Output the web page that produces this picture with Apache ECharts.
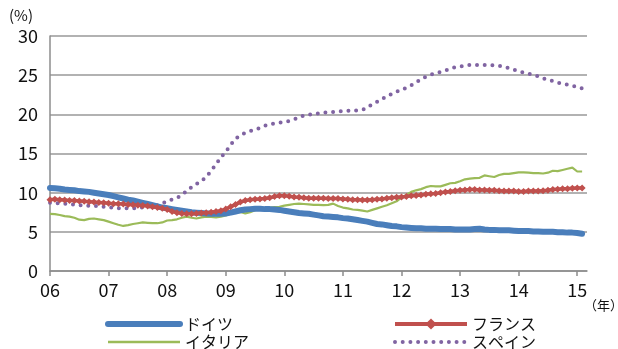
<!DOCTYPE html>
<html><head><meta charset="utf-8">
<script src="https://cdn.jsdelivr.net/npm/echarts@6/dist/echarts.min.js"></script>
<style>html,body{margin:0;padding:0;background:#fff}#c{width:618px;height:349px}</style>
</head><body><div id="c"></div>
<script>
// years shown on the axis (category axis is monthly: Jan 2006 .. Mar 2015)
var years = ['06','07','08','09','10','11','12','13','14','15'];
var yTicks = [0, 5, 10, 15, 20, 25, 30];
var seriesNames = ['ドイツ', 'フランス', 'イタリア', 'スペイン'];

// Germany (monthly, Jan 2006 - Feb 2015)
var germany = [
 10.6,10.55,10.5,10.4,10.35,10.3,10.2,10.15,10.1,10.0,9.9,9.8,
 9.7,9.55,9.4,9.25,9.1,9.0,8.85,8.7,8.55,8.4,8.25,8.1,
 8.0,7.9,7.8,7.7,7.6,7.5,7.45,7.4,7.35,7.3,7.3,7.3,
 7.35,7.45,7.6,7.75,7.85,7.9,7.95,7.95,7.9,7.9,7.85,7.8,
 7.7,7.6,7.5,7.4,7.35,7.3,7.2,7.1,7.0,6.95,6.9,6.85,
 6.75,6.7,6.6,6.5,6.4,6.3,6.15,6.0,5.95,5.85,5.75,5.7,
 5.6,5.55,5.5,5.45,5.45,5.4,5.4,5.4,5.35,5.35,5.35,5.3,
 5.3,5.3,5.3,5.35,5.4,5.3,5.25,5.25,5.2,5.2,5.2,5.15,
 5.1,5.1,5.1,5.05,5.05,5.0,5.0,5.0,4.95,4.95,4.9,4.9,
 4.85,4.75
];
// France
var france = [
 9.1,9.15,9.1,9.05,9.0,9.0,8.95,8.9,8.85,8.8,8.75,8.7,
 8.65,8.6,8.6,8.55,8.5,8.45,8.4,8.35,8.3,8.2,8.1,8.0,
 7.85,7.6,7.45,7.35,7.3,7.3,7.35,7.4,7.45,7.5,7.6,7.7,
 7.9,8.2,8.5,8.8,9.0,9.1,9.15,9.2,9.25,9.35,9.5,9.6,
 9.6,9.55,9.45,9.4,9.35,9.3,9.3,9.3,9.3,9.25,9.25,9.25,
 9.2,9.15,9.1,9.1,9.05,9.05,9.1,9.15,9.2,9.3,9.35,9.4,
 9.45,9.5,9.6,9.65,9.7,9.8,9.85,9.9,10.0,10.1,10.15,10.25,
 10.3,10.35,10.4,10.4,10.35,10.35,10.3,10.3,10.25,10.2,10.2,10.2,
 10.15,10.15,10.2,10.2,10.2,10.25,10.3,10.4,10.45,10.5,10.5,10.55,
 10.6,10.6
];
// Italy
var italy = [
 7.3,7.25,7.15,7.0,6.95,6.8,6.55,6.5,6.65,6.7,6.6,6.5,
 6.3,6.1,5.9,5.75,5.85,6.0,6.1,6.2,6.15,6.1,6.1,6.2,
 6.45,6.5,6.6,6.8,6.95,6.8,6.7,6.85,6.95,6.9,6.85,6.95,
 7.1,7.3,7.5,7.55,7.35,7.5,7.75,7.9,8.0,8.1,8.15,8.2,
 8.35,8.45,8.55,8.6,8.55,8.5,8.45,8.45,8.4,8.45,8.6,8.3,
 8.1,8.0,7.85,7.8,7.7,7.6,7.8,8.0,8.2,8.4,8.65,8.9,
 9.4,9.7,10.1,10.3,10.45,10.7,10.85,10.8,10.8,11.0,11.2,11.25,
 11.45,11.7,11.8,11.85,11.9,12.2,12.1,12.0,12.25,12.4,12.4,12.5,
 12.6,12.6,12.55,12.5,12.5,12.45,12.55,12.8,12.75,12.9,13.05,13.2,
 12.7,12.7
];
// Spain
var spain = [
 8.7,8.7,8.6,8.6,8.5,8.5,8.4,8.4,8.3,8.3,8.3,8.2,
 8.1,8.1,8.0,8.0,8.0,8.0,8.1,8.1,8.2,8.3,8.4,8.6,
 8.95,9.1,9.3,9.7,10.2,10.7,11.1,11.5,12.0,12.8,13.6,14.5,
 15.2,16.1,16.9,17.3,17.65,17.85,18.05,18.25,18.55,18.7,18.85,18.95,
 19.0,19.15,19.35,19.6,19.85,19.95,20.05,20.1,20.2,20.3,20.3,20.35,
 20.4,20.45,20.5,20.5,20.6,20.85,21.3,21.6,21.95,22.3,22.6,22.9,
 23.1,23.4,23.7,24.1,24.45,24.8,25.05,25.25,25.4,25.6,25.85,26.0,
 26.1,26.2,26.3,26.3,26.3,26.3,26.3,26.25,26.2,26.05,25.9,25.7,
 25.5,25.35,25.2,25.0,24.85,24.6,24.4,24.25,24.05,23.9,23.8,23.65,
 23.5,23.3
];

// monthly categories: each year label followed by 11 unlabeled months, plus Jan-Mar 2015
var months = [];
years.forEach(function (y, k) {
  var n = (k === years.length - 1) ? 3 : 12;
  for (var m = 0; m < n; m++) months.push(m === 0 ? y : y + '-' + (m + 1));
});

var FONT = '"Noto Sans CJK JP", "Noto Sans", sans-serif';
var chart = echarts.init(document.getElementById('c'), null, {renderer: 'canvas'});
var isYear = function (idx, val) { return val.indexOf('-') < 0; };
var noMark = {opacity: 0};
var legendText = {fontSize: 16, color: '#111', fontFamily: FONT, lineHeight: 14};
var C = {de: '#4a7ebb', fr: '#c0504d', it: '#9bbb59', es: '#8064a2'};
var spainDots = {width: 4, type: [0, 7.7], cap: 'round', color: C.es};

chart.setOption({
  animation: false,
  color: [C.de, C.fr, C.it, C.es],
  grid: {left: 50, right: 31, top: 36, bottom: 78, containLabel: false},
  xAxis: {
    type: 'category', data: months, boundaryGap: false,
    axisLine: {lineStyle: {color: '#8c8c8c', width: 1.5}},
    axisTick: {show: true, interval: isYear, length: 5, lineStyle: {color: '#8c8c8c', width: 1.5}},
    axisLabel: {interval: isYear, color: '#111', fontSize: 18, fontFamily: FONT, margin: 10},
    splitLine: {show: false}
  },
  yAxis: {
    type: 'value', min: yTicks[0], max: yTicks[yTicks.length - 1], interval: 5,
    axisLine: {show: true, lineStyle: {color: '#8c8c8c', width: 1.5}},
    axisTick: {show: false},
    axisLabel: {color: '#111', fontSize: 18, fontFamily: FONT, margin: 12},
    splitLine: {lineStyle: {color: '#999', width: 1.5}}
  },
  legend: [{
    data: [
      {name: seriesNames[0], itemStyle: noMark, lineStyle: {width: 6, color: C.de, cap: 'round'}},
      {name: seriesNames[2], itemStyle: noMark, lineStyle: {width: 2.5, color: C.it}}
    ],
    orient: 'vertical', left: 105, top: 316, height: 40, padding: 0,
    itemWidth: 72, itemHeight: 14, itemGap: 2, textStyle: legendText
  }, {
    data: [
      {name: seriesNames[1], lineStyle: {width: 4, color: C.fr}},
      {name: seriesNames[3], itemStyle: noMark, lineStyle: spainDots}
    ],
    orient: 'vertical', left: 393, top: 316, height: 40, padding: 0,
    itemWidth: 72, itemHeight: 14, itemGap: 2, textStyle: legendText
  }],
  graphic: [
    {type: 'text', left: 9, top: 8, style: {text: '(%)', fontSize: 15, fill: '#111', fontFamily: FONT}},
    {type: 'text', left: 584, top: 299, style: {text: '（年）', fontSize: 13, fill: '#111', fontFamily: FONT}}
  ],
  series: [
    {name: seriesNames[3], type: 'line', data: spain, symbol: 'none', z: 1,
     lineStyle: spainDots},
    {name: seriesNames[2], type: 'line', data: italy, symbol: 'none', z: 2,
     lineStyle: {width: 2.2, color: C.it}},
    {name: seriesNames[0], type: 'line', data: germany, symbol: 'none', z: 3,
     lineStyle: {width: 6, color: C.de, cap: 'round'}},
    {name: seriesNames[1], type: 'line', data: france, symbol: 'diamond', symbolSize: 7,
     showSymbol: true, showAllSymbol: true, z: 4,
     itemStyle: {color: C.fr},
     lineStyle: {width: 3.5, color: C.fr}}
  ]
});
</script></body></html>
